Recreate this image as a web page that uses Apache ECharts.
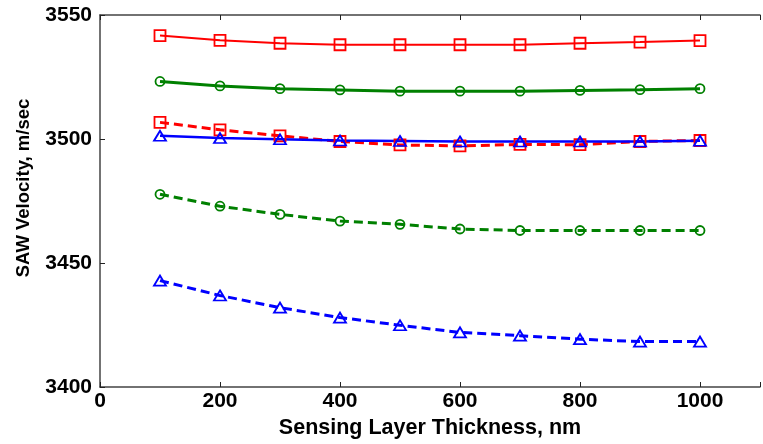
<!DOCTYPE html>
<html>
<head>
<meta charset="utf-8">
<script src="https://cdn.jsdelivr.net/npm/echarts@6/dist/echarts.min.js"></script>
<style>
html, body { margin: 0; padding: 0; background: #fff; }
#main { width: 763px; height: 444px; }
</style>
</head>
<body>
<div id="main"></div>
<script>
// thickness values, nm
var thickness = [100, 200, 300, 400, 500, 600, 700, 800, 900, 1000];

// solid curves
var redSolid   = [3541.7, 3539.8, 3538.6, 3538.0, 3538.0, 3538.0, 3538.0, 3538.6, 3539.1, 3539.7];
var greenSolid = [3523.2, 3521.4, 3520.3, 3519.8, 3519.3, 3519.3, 3519.3, 3519.6, 3519.9, 3520.3];
var blueSolid  = [3501.3, 3500.4, 3499.9, 3499.4, 3499.2, 3499.0, 3499.0, 3499.0, 3499.0, 3499.3];

// dashed curves
var redDashed   = [3506.7, 3503.7, 3501.3, 3499.0, 3497.6, 3497.2, 3497.8, 3497.7, 3499.0, 3499.4];
var greenDashed = [3477.7, 3472.9, 3469.6, 3466.9, 3465.6, 3463.7, 3463.1, 3463.1, 3463.1, 3463.1];
var blueDashed  = [3442.9, 3436.9, 3432.0, 3428.0, 3424.9, 3422.0, 3420.7, 3419.3, 3418.3, 3418.3];

var yTicks = [3400, 3450, 3500, 3550];

var chart = echarts.init(document.getElementById('main'), null, { renderer: 'canvas' });

function pairs(ys) {
    return ys.map(function (y, i) { return [thickness[i], y]; });
}

function mk(name, ys, color, symbol, size, dashed, width) {
    return {
        name: name,
        type: 'line',
        data: pairs(ys),
        symbol: symbol,
        symbolSize: size,
        showAllSymbol: true,
        lineStyle: { color: color, width: width, type: dashed ? [9, 5] : 'solid' },
        itemStyle: { color: 'rgba(0,0,0,0)', borderColor: color, borderWidth: 1.8 },
        emphasis: { disabled: true },
        animation: false
    };
}

var font = 'Liberation Sans';

var option = {
    backgroundColor: '#fff',
    grid: { left: 100, top: 15, width: 668, bottom: 54 },
    xAxis: [{
        type: 'value',
        min: 0, max: 1100, interval: 200,
        name: 'Sensing Layer Thickness, nm',
        nameLocation: 'middle',
        nameGap: 30,
        nameTextStyle: { fontFamily: font, fontSize: 21.5, fontWeight: 'bold', color: '#000' },
        axisLine: { show: true, lineStyle: { color: '#444', width: 1.5 } },
        axisTick: { show: true, inside: true, length: 5, lineStyle: { color: '#222' } },
        axisLabel: {
            fontFamily: font, fontSize: 21, fontWeight: 'bold', color: '#000', margin: 4,
            formatter: function (v) { return v > 1000 ? '' : String(v); }
        },
        splitLine: { show: false }
    }, {
        type: 'value',
        position: 'top',
        min: 0, max: 1100, interval: 200,
        axisLine: { show: true, lineStyle: { color: '#444', width: 1.5 } },
        axisTick: { show: true, inside: true, length: 5, lineStyle: { color: '#222' } },
        axisLabel: { show: false },
        splitLine: { show: false }
    }],
    yAxis: {
        type: 'value',
        min: yTicks[0], max: yTicks[yTicks.length - 1], interval: 50,
        name: 'SAW Velocity, m/sec',
        nameLocation: 'middle',
        nameGap: 67,
        nameTextStyle: { fontFamily: font, fontSize: 18.5, fontWeight: 'bold', color: '#000', padding: [0, 0, 0, 26] },
        axisLine: { show: true, lineStyle: { color: '#444', width: 1.5 } },
        axisTick: { show: true, inside: true, length: 5, lineStyle: { color: '#222' } },
        axisLabel: {
            fontFamily: font, fontSize: 21, fontWeight: 'bold', color: '#000', margin: 8,
            formatter: function (v) { return String(v); }
        },
        splitLine: { show: false }
    },
    series: [
        mk('red dashed', redDashed, '#ff0000', 'rect', 11, true, 3),
        mk('green dashed', greenDashed, '#008000', 'circle', 9, true, 3),
        mk('blue dashed', blueDashed, '#0000ff', 'triangle', [12, 10], true, 3),
        mk('red solid', redSolid, '#ff0000', 'rect', 11, false, 2),
        mk('green solid', greenSolid, '#008000', 'circle', 9, false, 3),
        mk('blue solid', blueSolid, '#0000ff', 'triangle', [12, 10], false, 2.5)
    ]
};

chart.setOption(option);
</script>
</body>
</html>
